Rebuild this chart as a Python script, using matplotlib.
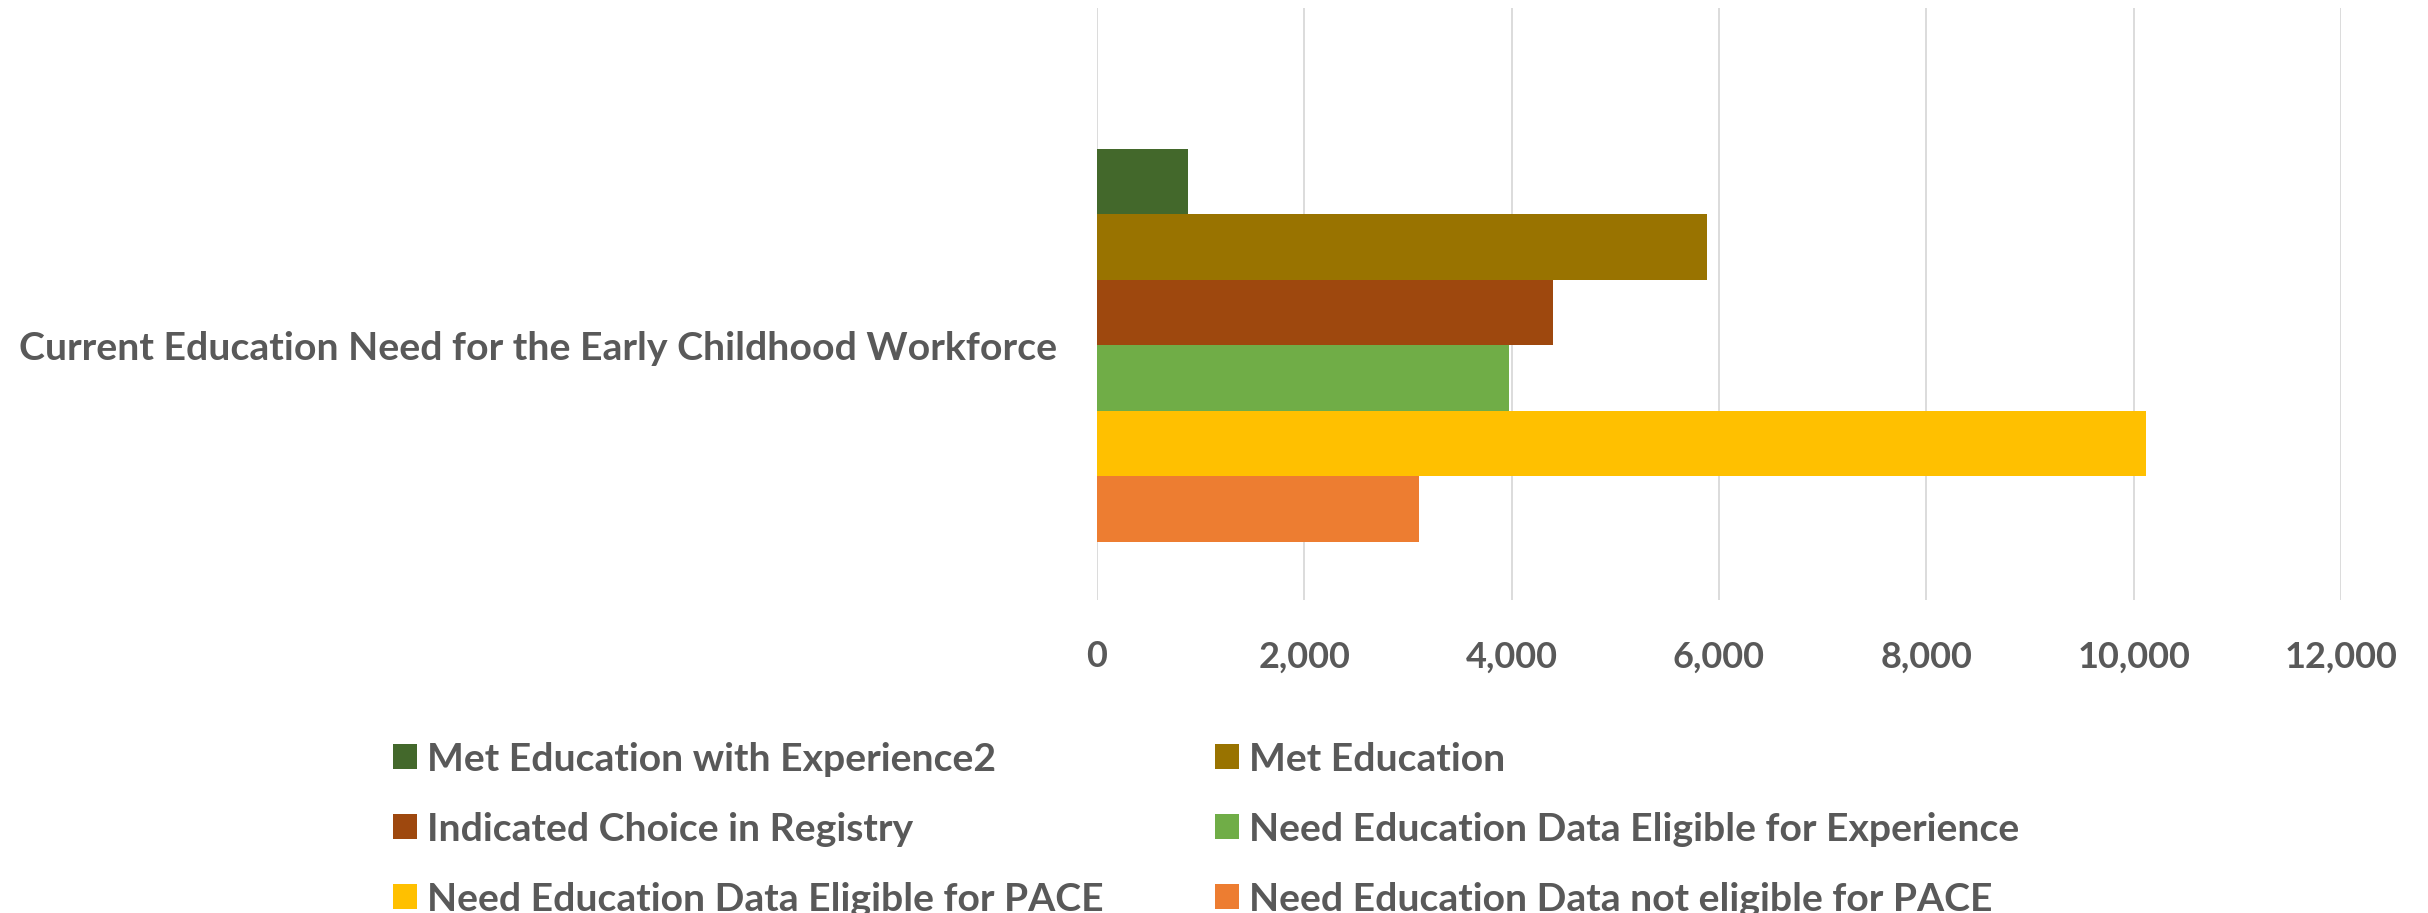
import matplotlib.pyplot as plt
from matplotlib.ticker import FuncFormatter

# series in drawing order (top to bottom)
series_names = [
    'Met Education with Experience2',
    'Met Education',
    'Indicated Choice in Registry',
    'Need Education Data Eligible for Experience',
    'Need Education Data Eligible for PACE',
    'Need Education Data not eligible for PACE',
]
series_values = [880, 5880, 4400, 3970, 10120, 3110]
series_colors = ['#43682B', '#997300', '#9E480E', '#70AD47', '#FFC000', '#ED7D31']
category_label = 'Current Education Need for the Early Childhood Workforce'
x_ticks = [0, 2000, 4000, 6000, 8000, 10000, 12000]

text_color = '#595959'
font_family = ['Lato', 'DejaVu Sans']

fig = plt.figure(figsize=(24.28, 9.13), dpi=100)
renderer = fig.canvas.get_renderer()


def fit_size(text, target_px):
    # font size that gives the text the wanted width in pixels
    t = fig.text(0, 0, text, fontsize=20, family=font_family, weight='bold')
    w = t.get_window_extent(renderer).width
    t.remove()
    return 20 * target_px / w


label_size = fit_size(category_label, 1038)
tick_size = fit_size('10,000', 114)
legend_size = fit_size('Need Education Data Eligible for Experience', 772)

ax = fig.add_axes([1097 / 2428, 1 - 600 / 913, (2341 - 1097) / 2428, 592 / 913])

bars = []
for i, (name, value, color) in enumerate(zip(series_names, series_values, series_colors)):
    b = ax.barh(i, value, height=1.0, color=color, label=name, zorder=3)
    bars.append(b)

ax.set_xlim(0, 12000)
ax.set_ylim(6.39, -2.65)
ax.set_xticks(x_ticks)
ax.xaxis.set_major_formatter(FuncFormatter(lambda v, p: f'{int(v):,}'))
ax.set_yticks([2.5])
ax.set_yticklabels([category_label])

ax.grid(axis='x', color='#D9D9D9', linewidth=1.3, zorder=0)
for side in ['top', 'right', 'left', 'bottom']:
    ax.spines[side].set_visible(False)
ax.tick_params(axis='both', length=0)
ax.tick_params(axis='x', pad=29)
ax.tick_params(axis='y', pad=29)

for lbl in ax.get_xticklabels():
    lbl.set_fontsize(tick_size)
for lbl in ax.get_yticklabels():
    lbl.set_fontsize(label_size)
for lbl in ax.get_xticklabels() + ax.get_yticklabels():
    lbl.set_family(font_family)
    lbl.set_fontweight('bold')
    lbl.set_color(text_color)

# legend, two columns filled row by row
legend_props = dict(family=font_family, weight='bold', size=legend_size)
em = legend_size * 100 / 72
col1 = [bars[0], bars[2], bars[4]]
col2 = [bars[1], bars[3], bars[5]]
for handles, x0 in [(col1, 393 / 2428), (col2, 1215 / 2428)]:
    leg = fig.legend(handles=handles, labels=[h.get_label() for h in handles],
                     loc='center left', bbox_to_anchor=(x0, 1 - 829 / 913),
                     frameon=False, prop=legend_props, borderpad=0, borderaxespad=0,
                     handlelength=24 / em, handleheight=23 / em, handletextpad=10 / em,
                     labelspacing=35 / em)
    for t in leg.get_texts():
        t.set_color(text_color)

fig.savefig('out.png', dpi=100)
